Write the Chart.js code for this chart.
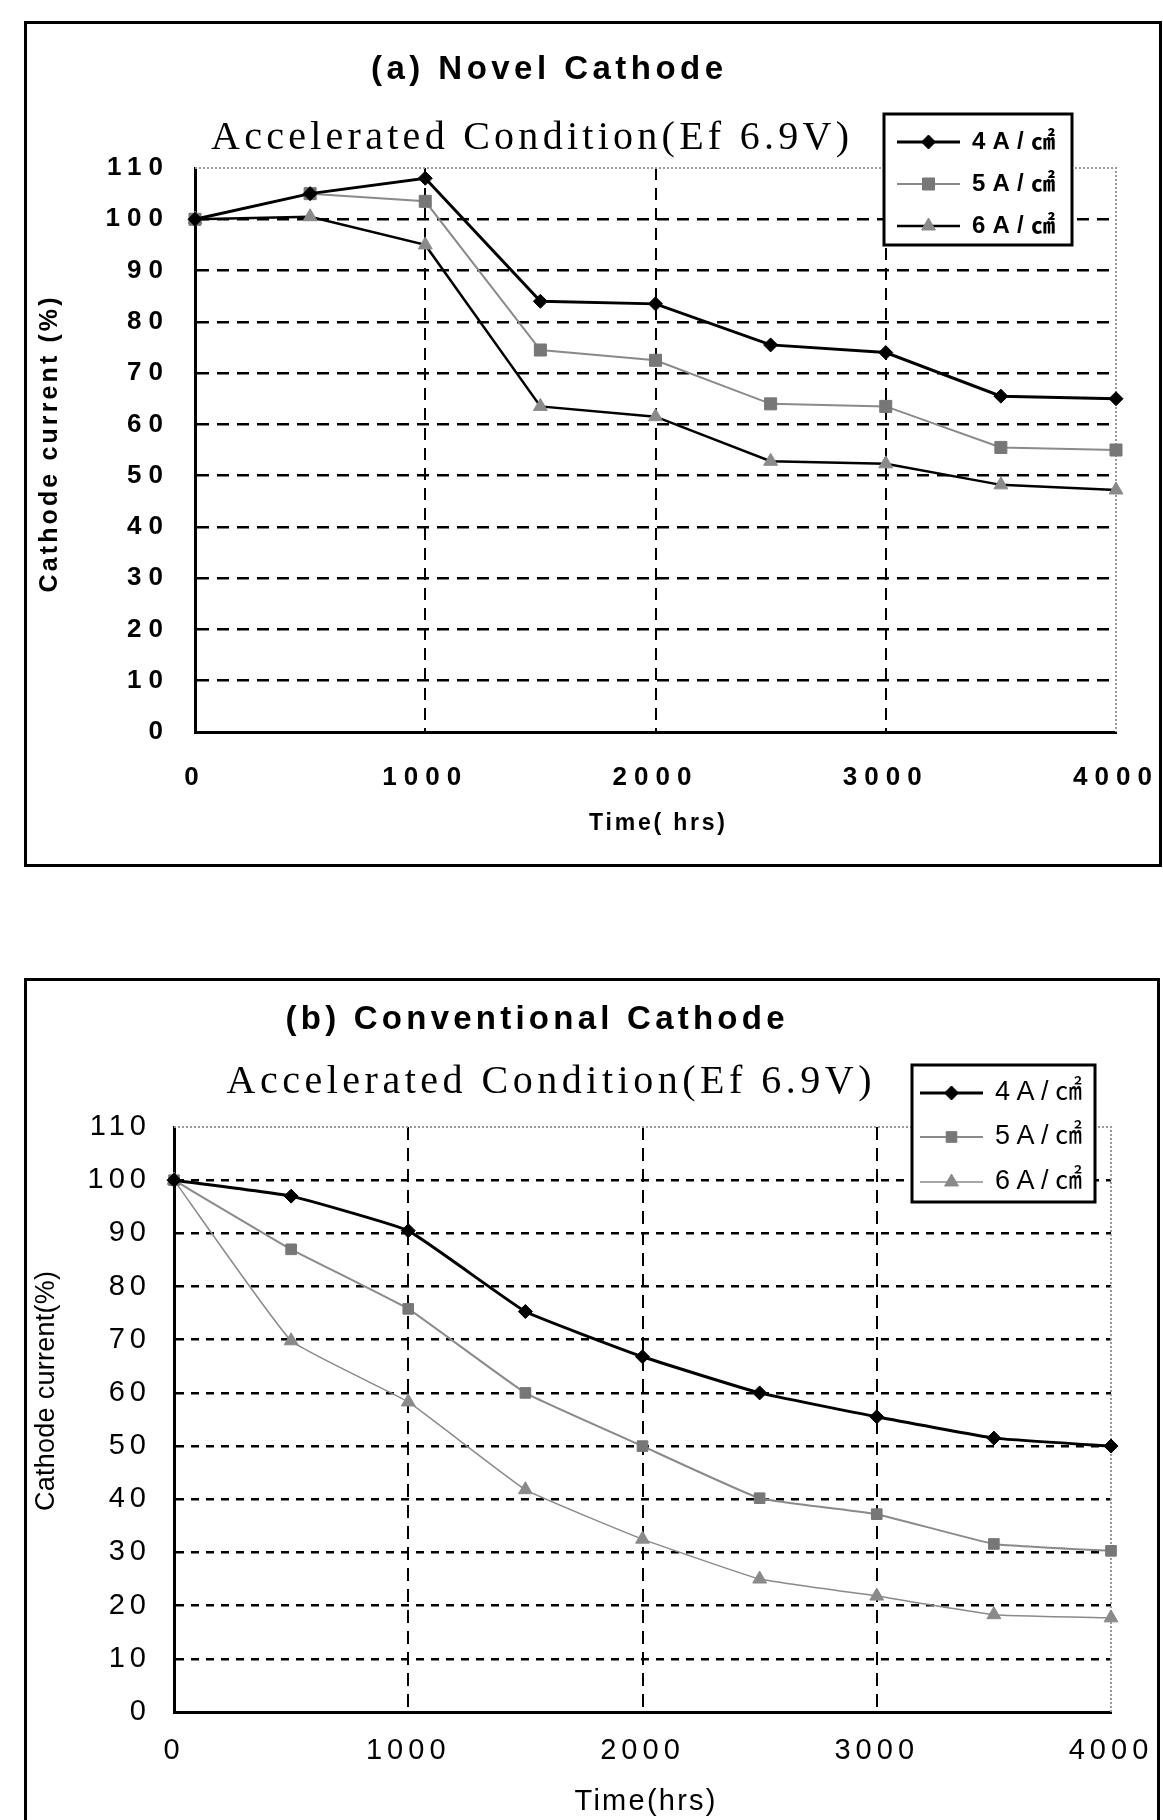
<!DOCTYPE html>
<html><head><meta charset="utf-8">
<script src="https://cdn.jsdelivr.net/npm/chart.js@4"></script>
<style>
html,body{margin:0;padding:0;background:#fff;width:1163px;height:1820px;overflow:hidden;}
.box{position:absolute;border:3px solid #000;box-sizing:border-box;}
canvas{position:absolute;left:0;}
</style></head><body>
<div class="box" style="left:24px;top:21px;width:1138px;height:846px;"></div>
<div class="box" style="left:24px;top:978px;width:1136px;height:900px;"></div>
<canvas id="ca" width="1163" height="900" style="top:0px"></canvas>
<canvas id="cb" width="1163" height="880" style="top:940px"></canvas>
<script>
// ---- data ----
const timeHrs = [0, 500, 1000, 1500, 2000, 2500, 3000, 3500, 4000];
const xTickValues = [0, 1000, 2000, 3000, 4000];
const yTickValues = [0, 10, 20, 30, 40, 50, 60, 70, 80, 90, 100, 110];
const seriesLabels = ['4A/㎠', '5A/㎠', '6A/㎠'];
const novel4A = [100, 105, 108, 84, 83.5, 75.5, 74, 65.5, 65];
const novel5A = [100, 105, 103.5, 74.5, 72.5, 64, 63.5, 55.5, 55];
const novel6A = [100, 100.5, 95, 63.5, 61.5, 52.8, 52.3, 48.2, 47.2];
const conv4A = [100, 97, 90.5, 75.3, 66.8, 60, 55.5, 51.5, 50];
const conv5A = [100, 87, 75.8, 60, 50, 40.2, 37.2, 31.6, 30.3];
const conv6A = [100, 69.8, 58.3, 41.8, 32.5, 25, 21.8, 18.3, 17.7];
const titleA = '(a) Novel Cathode';
const titleB = '(b) Conventional Cathode';
const subTitle = 'Accelerated Condition(Ef 6.9V)';
const yTitleA = 'Cathode current (%)';
const yTitleB = 'Cathode current(%)';
const xTitleA = 'Time( hrs)';
const xTitleB = 'Time(hrs)';

const GREY = '#8a8a8a';
const pts = arr => timeHrs.map((t, i) => ({x: t, y: arr[i]}));

function fitText(ctx, text, cx, cy, width, font, align) {
  ctx.save();
  ctx.font = font;
  ctx.letterSpacing = '0px';
  ctx.fillStyle = '#000';
  const w0 = ctx.measureText(text).width;
  const n = [...text].length;
  let ls = 0;
  if (w0 < width && n > 1) ls = (width - w0) / (n - 1);
  ctx.letterSpacing = ls + 'px';
  ctx.textBaseline = 'middle';
  ctx.textAlign = 'left';
  const total = Math.min(width, w0 + ls * (n - 1));
  const x0 = align === 'left' ? cx : cx - total / 2;
  if (w0 > width) ctx.fillText(text, x0, cy, width); else ctx.fillText(text, x0, cy);
  ctx.restore();
}

function makeChart(id, cfg) {
  const ds = cfg.series.map((s, i) => ({
    label: seriesLabels[i],
    data: pts(s.values),
    borderColor: s.line,
    borderWidth: s.lw,
    backgroundColor: s.fill,
    pointBackgroundColor: s.fill,
    pointBorderColor: s.fill,
    pointBorderWidth: 1,
    pointStyle: s.style,
    pointRadius: s.r,
    tension: cfg.tension,
    clip: false
  }));
  const decor = {
    id: 'decor',
    beforeDraw(chart) { chart.ctx.letterSpacing = cfg.tickLS + 'px'; },
    beforeDatasetsDraw(chart) {
      const ctx = chart.ctx, a = chart.chartArea;
      ctx.save();
      ctx.letterSpacing = '0px';
      ctx.strokeStyle = '#999';
      ctx.lineWidth = 2;
      ctx.setLineDash([2, 2]);
      ctx.beginPath();
      ctx.moveTo(a.left, a.top); ctx.lineTo(a.right, a.top); ctx.lineTo(a.right, a.bottom);
      ctx.stroke();
      ctx.restore();
    },
    afterDraw(chart) {
      const ctx = chart.ctx;
      ctx.save();
      ctx.letterSpacing = '0px';
      const t = cfg.text;
      fitText(ctx, t.title[0], t.title[1], t.title[2], t.title[3], t.title[4]);
      fitText(ctx, t.sub[0], t.sub[1], t.sub[2], t.sub[3], t.sub[4]);
      fitText(ctx, t.xt[0], t.xt[1], t.xt[2], t.xt[3], t.xt[4]);
      ctx.save();
      ctx.translate(t.yt[1], t.yt[2]);
      ctx.rotate(-Math.PI / 2);
      fitText(ctx, t.yt[0], 0, 0, t.yt[3], t.yt[4]);
      ctx.restore();
      // legend
      const L = cfg.legend;
      ctx.fillStyle = '#fff';
      ctx.fillRect(L.l, L.t, L.r - L.l, L.b - L.t);
      ctx.strokeStyle = '#000';
      ctx.lineWidth = 3;
      ctx.strokeRect(L.l, L.t, L.r - L.l, L.b - L.t);
      cfg.series.forEach((s, i) => {
        const y = L.ys[i];
        ctx.save();
        ctx.strokeStyle = s.line;
        ctx.lineWidth = s.lw;
        ctx.beginPath(); ctx.moveTo(L.x1, y); ctx.lineTo(L.x2, y); ctx.stroke();
        ctx.fillStyle = s.fill; ctx.strokeStyle = s.fill; ctx.lineWidth = 1;
        Chart.helpers.drawPoint(ctx, {pointStyle: s.style, radius: s.r, rotation: 0, borderWidth: 1}, (L.x1 + L.x2) / 2, y);
        ctx.restore();
        fitText(ctx, seriesLabels[i], L.tx, y, L.tw, L.font, 'left');
      });
      ctx.restore();
    }
  };
  const gridColor = (edge) => (c) => (c.tick && edge.includes(c.tick.value)) ? 'rgba(0,0,0,0)' : '#000';
  return new Chart(document.getElementById(id), {
    type: 'line',
    data: {datasets: ds},
    options: {
      responsive: false, animation: false, devicePixelRatio: 1,
      layout: {padding: cfg.pad},
      plugins: {legend: {display: false}, title: {display: false}, tooltip: {enabled: false}},
      scales: {
        x: {
          type: 'linear', min: 0, max: 4000,
          afterBuildTicks: s => { s.ticks = xTickValues.map(v => ({value: v})); },
          afterFit: s => { s.height = cfg.xH; },
          grid: {color: gridColor([0, 4000]), lineWidth: cfg.vgw, drawTicks: true, tickLength: cfg.xTL, tickColor: 'rgba(0,0,0,0)'},
          border: {display: true, color: '#000', width: 3, dash: cfg.vdash},
          ticks: {color: '#000', font: cfg.tickFont, padding: 2, maxRotation: 0, autoSkip: false, callback: v => String(v)}
        },
        y: {
          type: 'linear', min: 0, max: 110,
          afterBuildTicks: s => { s.ticks = yTickValues.map(v => ({value: v})); },
          afterFit: s => { s.width = cfg.yW; },
          grid: {color: gridColor([0, 110]), lineWidth: cfg.hgw, drawTicks: true, tickLength: cfg.yTL, tickColor: 'rgba(0,0,0,0)'},
          border: {display: true, color: '#000', width: 3, dash: cfg.hdash},
          ticks: {color: '#000', font: cfg.tickFont, padding: 2, autoSkip: false, callback: v => String(v)}
        }
      }
    },
    plugins: [decor]
  });
}

// Chart (a): canvas at page top 0
makeChart('ca', {
  series: [
    {values: novel4A, line: '#000', lw: 3, fill: '#000', style: 'rectRot', r: 7},
    {values: novel5A, line: GREY, lw: 2, fill: '#777', style: 'rect', r: 8.5},
    {values: novel6A, line: '#000', lw: 2.5, fill: GREY, style: 'triangle', r: 8}
  ],
  tension: 0,
  pad: {left: 75, right: 47, top: 168, bottom: 68},
  xH: 100, yW: 120,
  tickFont: {family: 'Liberation Sans', size: 26, weight: 'bold'},
  tickLS: 7, xTL: 28, yTL: 23,
  vgw: 2, hgw: 2.5, vdash: [12, 8], hdash: [12, 8],
  text: {
    title: [titleA, 547, 70, 352, 'bold 33px "Liberation Sans"'],
    sub: [subTitle, 530, 138, 638, '40px "Liberation Serif"'],
    xt: [xTitleA, 657, 824, 136, 'bold 23px "Liberation Sans"'],
    yt: [yTitleA, 50, 445, 295, 'bold 25px "Liberation Sans"']
  },
  legend: {l: 884, t: 114, r: 1072, b: 245, ys: [142, 184, 226], x1: 897, x2: 960, tx: 972, tw: 83,
           font: 'bold 24px "Liberation Sans", "Noto Sans CJK KR"'}
});

// Chart (b): canvas at page top 940
makeChart('cb', {
  series: [
    {values: conv4A, line: '#000', lw: 3, fill: '#000', style: 'rectRot', r: 7},
    {values: conv5A, line: GREY, lw: 2, fill: '#777', style: 'rect', r: 7.5},
    {values: conv6A, line: GREY, lw: 1.5, fill: GREY, style: 'triangle', r: 8}
  ],
  tension: 0.1,
  pad: {left: 54, right: 52, top: 187, bottom: 48},
  xH: 60, yW: 120,
  tickFont: {family: 'Liberation Sans', size: 29, weight: 'normal'},
  tickLS: 5, xTL: 20, yTL: 21,
  vgw: 2, hgw: 2.5, vdash: [13, 8], hdash: [8, 7],
  text: {
    title: [titleB, 535, 80, 499, 'bold 33px "Liberation Sans"'],
    sub: [subTitle, 549, 142, 645, '40px "Liberation Serif"'],
    xt: [xTitleB, 645, 862, 141, '29px "Liberation Sans"'],
    yt: [yTitleB, 47, 451, 240, '27px "Liberation Sans"']
  },
  legend: {l: 912, t: 125, r: 1095, b: 262, ys: [153, 197, 242], x1: 920, x2: 983, tx: 995, tw: 87,
           font: '27px "Liberation Sans", "Noto Sans CJK KR"'}
});
</script>
</body></html>
